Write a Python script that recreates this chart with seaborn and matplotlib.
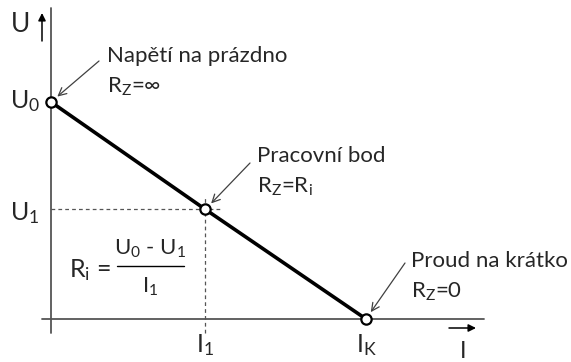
"""
Zatěžovací charakteristika zdroje (U-I)
"""
import matplotlib
matplotlib.use('Agg')
import matplotlib.pyplot as plt
import seaborn as sns

# --- data ---
proud = [0.0, 0.49, 1.0]          # 0, I1, IK
napeti = [1.0, 0.505, 0.0]        # U0, U1, 0
osa_x = [-0.03, 1.375]
osa_y = [-0.065, 1.435]

sns.set_style('white')
plt.rcParams['font.family'] = ['Lato', 'DejaVu Sans']
plt.rcParams['mathtext.fontset'] = 'custom'
plt.rcParams['mathtext.rm'] = 'Lato'
plt.rcParams['mathtext.it'] = 'Lato:italic'

W, H = 571, 362
fig = plt.figure(figsize=(W / 100, H / 100), dpi=100)
ax = fig.add_axes([0, 0, 1, 1])
ax.set_xlim(-51 / 315, 520 / 315)
ax.set_ylim(-43 / 217, 319 / 217)
ax.axis('off')

seda = '#555555'
# osy
ax.plot(osa_x, [0, 0], color=seda, lw=1.3, zorder=1)
ax.plot([0, 0], osa_y, color=seda, lw=1.3, zorder=1)

# pomocne carkovane cary k pracovnimu bodu
ax.plot([0, proud[1] + 0.045], [napeti[1], napeti[1]], color=seda, lw=0.9,
        ls=(0, (3, 2.5)), zorder=1)
ax.plot([proud[1], proud[1]], [osa_y[0], napeti[1] + 0.06], color=seda, lw=0.9,
        ls=(0, (3, 2.5)), zorder=1)

# charakteristika
sns.lineplot(x=proud, y=napeti, ax=ax, color='black', lw=2.6, zorder=2,
             sort=False, estimator=None)
ax.scatter(proud, napeti, s=55, facecolor='white', edgecolor='black',
           linewidth=1.6, zorder=3)


def fx(x):
    return x / W


def fy(y):
    return 1 - y / H


def txt(x, y, s, size=16, **kw):
    fig.text(fx(x), fy(y), s, fontsize=size, va='center', ha='left', **kw)


def sipka_osy(x0, y0, x1, y1):
    fig.add_artist(matplotlib.patches.FancyArrowPatch(
        (fx(x0), fy(y0)), (fx(x1), fy(y1)), transform=fig.transFigure,
        arrowstyle='-|>', mutation_scale=11, color='black', lw=1.1,
        shrinkA=0, shrinkB=0))


# popisky os
txt(11, 24, 'U', size=19)
sipka_osy(42, 41, 42, 13)
txt(460, 352, 'I', size=17)
sipka_osy(449, 328, 476, 328)

# popisky bodu
txt(10, 101, r'$\mathrm{U_0}$', size=18)
txt(10, 213, r'$\mathrm{U_1}$', size=18)
txt(196, 345, r'$\mathrm{I_1}$', size=18)
txt(356, 345, r'$\mathrm{I_K}$', size=18)

# poznamky se sipkami
sipka = dict(arrowstyle='->', color='#404040', lw=0.9,
             shrinkA=0, shrinkB=6, mutation_scale=14)
poznamky = [
    (0, ['Napětí na prázdno', r'$\mathrm{R_Z}$=∞'], 107, 56, 99, 61),
    (1, ['Pracovní bod', r'$\mathrm{R_Z}$=$\mathrm{R_i}$'], 257, 156, 250, 163),
    (2, ['Proud na krátko', r'$\mathrm{R_Z}$=0'], 411, 261, 405, 263),
]
for i, radky, tx, ty, ax_px, ay_px in poznamky:
    txt(tx, ty, radky[0])
    txt(tx, ty + 31, radky[1])
    ax.annotate('', xy=(proud[i], napeti[i]), xycoords='data',
                xytext=(ax_px, H - ay_px), textcoords='figure pixels',
                arrowprops=sipka)

# vzorec pro vnitrni odpor
txt(69, 270, r'$\mathrm{R_i}$ =', size=18)
fig.text(fx(150), fy(249), r'$\mathrm{U_0}$ - $\mathrm{U_1}$', fontsize=16,
         ha='center', va='center')
fig.text(fx(150), fy(287), r'$\mathrm{I_1}$', fontsize=16, ha='center',
         va='center')
fig.add_artist(plt.Line2D([fx(117), fx(184)], [fy(266), fy(266)],
                          color='black', lw=1.0))

plt.savefig('out.png', dpi=100)
plt.close()
